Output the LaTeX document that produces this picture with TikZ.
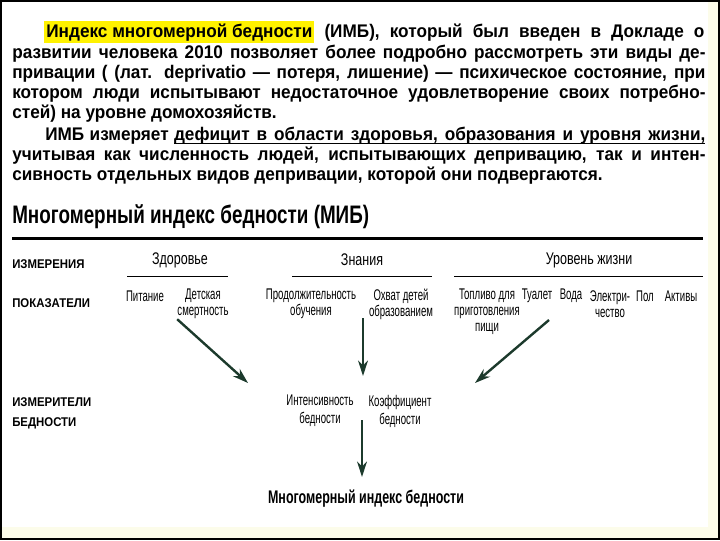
\documentclass[tikz,border=0pt]{standalone}
\usepackage{fontspec}
\setmainfont{Liberation Sans}
\newfontfamily\parafont[FakeStretch=0.94]{Liberation Sans}
\newfontfamily\narrowfont[FakeStretch=0.62]{Liberation Sans}
\newfontfamily\dimfont[FakeStretch=0.74]{Liberation Sans}
\newfontfamily\headfont[FakeStretch=0.745]{Liberation Sans}
\newfontfamily\rowfont[FakeStretch=0.9]{Liberation Sans}
\usetikzlibrary{arrows.meta}

\definecolor{arrowgreen}{HTML}{1C3A2C}
\definecolor{slidecream}{HTML}{FCFCEA}
\definecolor{markyellow}{HTML}{FFF200}

% justified lines of the paragraph
\newcommand{\fullline}[1]{\makebox[17.325cm][s]{#1}}
\newcommand{\indline}[1]{\makebox[16.5cm][s]{#1}}
% underlined word and underlined space
\newcommand{\ulw}[1]{\setbox0\hbox{#1}\rlap{\rule[-3pt]{\wd0}{0.8pt}}\box0}
\newcommand{\ulsp}{\leaders\hrule height -2.2pt depth 3pt\hskip 0.278em plus 0.4em minus 0.1em}
\setlength{\fboxsep}{1.5pt}

\tikzset{
  para/.style={anchor=base west, inner sep=0pt, font=\parafont\bfseries\fontsize{13}{14}\selectfont},
  dimlabel/.style={inner sep=0pt, font=\dimfont\fontsize{12}{14}\selectfont},
  indic/.style={inner sep=0pt, align=center, font=\narrowfont\fontsize{11}{11.4}\selectfont},
  rowlabel/.style={anchor=west, inner sep=0pt, align=left, font=\rowfont\bfseries\fontsize{9}{14}\selectfont},
  arr/.style={-{Stealth[length=11pt,width=7pt]}, line width=1.7pt, arrowgreen}
}

\begin{document}
\begin{tikzpicture}[x=0.025cm, y=-0.025cm]
  \useasboundingbox (0,0) rectangle (720,540);
  % slide background and frame
  \fill[slidecream] (0,0) rectangle (720,540);
  \fill[white] (2,2) rectangle (708,527);
  \draw[line width=1.4pt] (1,1) rectangle (719,539);

  % text above the diagram
  \node[para] (l1) at (44,37) {\indline{\colorbox{markyellow}{Индекс многомерной бедности} (ИМБ), который был введен в Докладе о}};
  \node[para] (l2) at (12,58) {\fullline{развитии человека 2010 позволяет более подробно рассмотреть эти виды де-}};
  \node[para] (l3) at (12,78) {\fullline{привации ( (лат. deprivatio — потеря, лишение) — психическое состояние, при}};
  \node[para] (l4) at (12,98) {\fullline{котором люди испытывают недостаточное удовлетворение своих потребно-}};
  \node[para] (l5) at (12,118) {стей) на уровне домохозяйств.};
  \node[para] (l6) at (45,140) {\indline{ИМБ измеряет \ulw{дефицит}\ulsp\ulw{в}\ulsp\ulw{области}\ulsp\ulw{здоровья,}\ulsp\ulw{образования}\ulsp\ulw{и}\ulsp\ulw{уровня}\ulsp\ulw{жизни,}}};
  \node[para] (l7) at (12,160) {\fullline{учитывая как численность людей, испытывающих депривацию, так и интен-}};
  \node[para] (l8) at (12,180) {сивность отдельных видов депривации, которой они подвергаются.};

  % heading
  \node[anchor=base west, inner sep=0pt, font=\headfont\bfseries\fontsize{18}{20}\selectfont] (head) at (12,223) {Многомерный индекс бедности (МИБ)};
  \draw[line width=2.5pt] (12,238.5) -- (703,238.5);

  % rows
  \node[rowlabel] (izm) at (12,264) {ИЗМЕРЕНИЯ};
  \node[rowlabel] (pok) at (12,303) {ПОКАЗАТЕЛИ};
  \node[rowlabel] (izmb) at (12,413) {ИЗМЕРИТЕЛИ\\БЕДНОСТИ};

  % dimensions
  \node[dimlabel] (zdor) at (180,260) {Здоровье};
  \node[dimlabel] (znan) at (362,260) {Знания};
  \node[dimlabel] (urov) at (589,260) {Уровень жизни};
  \draw (127,276) -- (228,276);
  \draw (292,276) -- (432,276);
  \draw (454,276) -- (703,276);

  % indicators
  \node[indic] (pit) at (145,296) {Питание};
  \node[indic] (det) at (203,304) {Детская\\смертность};
  \node[indic] (prod) at (311,304) {Продолжительность\\обучения};
  \node[indic] (ohv) at (401,304) {Охват детей\\образованием};
  \node[indic] (topl) at (487,312) {Топливо для\\приготовления\\пищи};
  \node[indic] (tua) at (537,296) {Туалет};
  \node[indic] (vod) at (571,296) {Вода};
  \node[indic] (ele) at (610,304) {Электри-\\чество};
  \node[indic] (pol) at (645,296) {Пол};
  \node[indic] (akt) at (681,296) {Активы};

  % poverty measures
  \node[indic, font=\narrowfont\fontsize{11}{12.8}\selectfont] (inten) at (320,411) {Интенсивность\\бедности};
  \node[indic, font=\narrowfont\fontsize{11}{12.8}\selectfont] (koef) at (400,411) {Коэффициент\\бедности};
  \node[inner sep=0pt, font=\narrowfont\bfseries\fontsize{13}{15}\selectfont, xscale=1.1] (mib) at (366,499) {Многомерный индекс бедности};

  % arrows
  \coordinate (a1) at (248,383);
  \coordinate (a2s) at (363,318);
  \coordinate (a2) at (363,376);
  \coordinate (a3s) at (549,320);
  \coordinate (a3) at (475,383);
  \coordinate (a4s) at (362,420);
  \coordinate (a4) at (362,477);
  \draw[arr] (det.south west) -- (a1);
  \draw[arr] (a2s) -- (a2);
  \draw[arr] (a3s) -- (a3);
  \draw[arr] (a4s) -- (a4);
\end{tikzpicture}
\end{document}
